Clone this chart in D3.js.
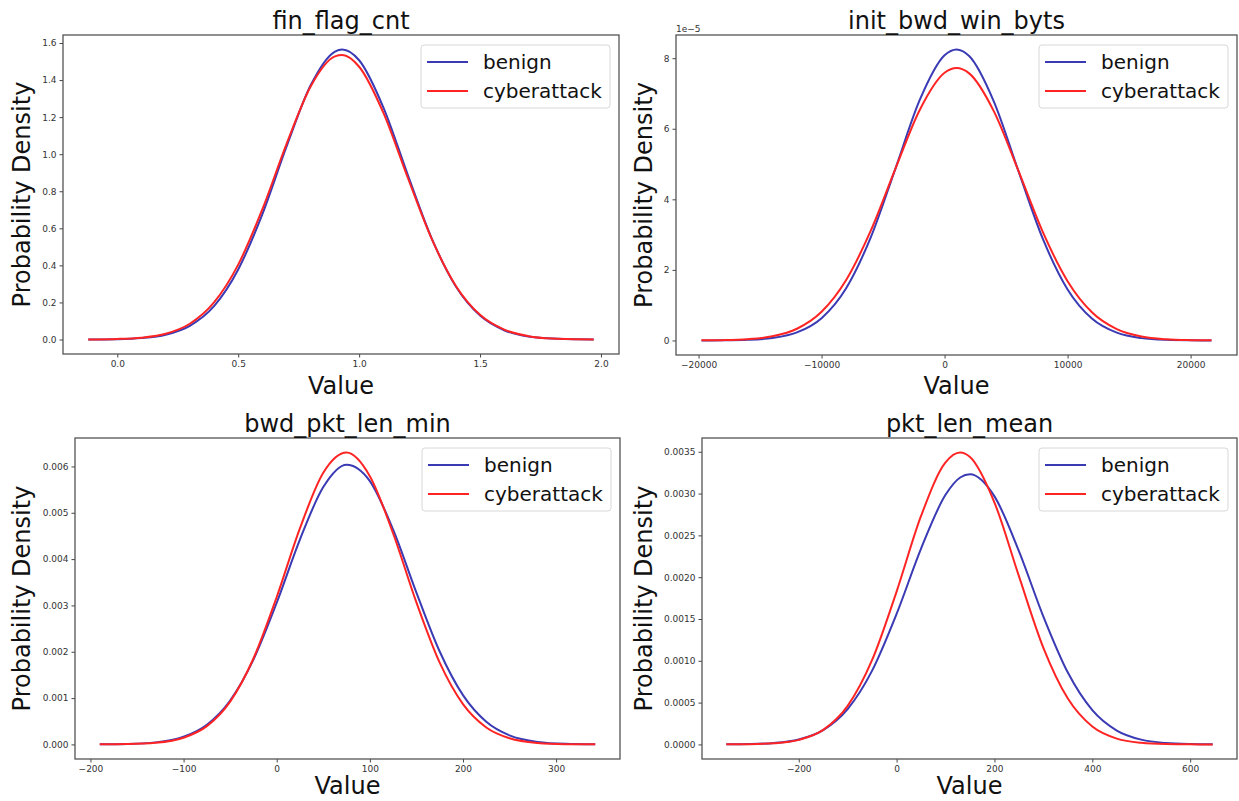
<!DOCTYPE html>
<html>
<head>
<meta charset="utf-8">
<script src="https://cdn.jsdelivr.net/npm/d3@7"></script>
<style>
  body { margin: 0; background: #fff; }
  text { font-family: "DejaVu Sans", sans-serif; }
</style>
</head>
<body>
<svg width="1239" height="801"></svg>
<script>
// fin_flag_cnt
const finX = [-0.12, 0.0, 0.1, 0.2, 0.3, 0.4, 0.5, 0.6, 0.7, 0.8, 0.9, 0.93, 1.0, 1.1, 1.2, 1.3, 1.4, 1.5, 1.6, 1.7, 1.8, 1.9, 1.97];
const finBenign = [0.0003, 0.002, 0.008, 0.026, 0.074, 0.180, 0.378, 0.677, 1.042, 1.373, 1.554, 1.565, 1.507, 1.253, 0.893, 0.546, 0.286, 0.129, 0.050, 0.016, 0.005, 0.001, 0.0004];
const finAttack = [0.0005, 0.003, 0.010, 0.031, 0.085, 0.200, 0.404, 0.703, 1.056, 1.367, 1.528, 1.535, 1.472, 1.224, 0.877, 0.543, 0.289, 0.133, 0.053, 0.018, 0.005, 0.0014, 0.0005];
const finXTicks = [0, 0.5, 1, 1.5, 2];
const finYTicks = [0, 0.2, 0.4, 0.6, 0.8, 1.0, 1.2, 1.4, 1.6];

// init_bwd_win_byts (densities in units of 1e-5)
const winX = [-19760, -18000, -16000, -14000, -12000, -10000, -8000, -6000, -4000, -2000, 0, 970, 2000, 4000, 6000, 8000, 10000, 12000, 14000, 16000, 18000, 20000, 21700];
const winBenign = [0.001, 0.004, 0.018, 0.069, 0.227, 0.632, 1.481, 2.923, 4.865, 6.830, 8.081, 8.245, 8.060, 6.777, 4.805, 2.870, 1.446, 0.614, 0.220, 0.066, 0.017, 0.004, 0.001];
const winAttack = [0.003, 0.009, 0.035, 0.117, 0.332, 0.813, 1.714, 3.111, 4.864, 6.546, 7.586, 7.720, 7.569, 6.501, 4.810, 3.063, 1.680, 0.793, 0.323, 0.113, 0.034, 0.009, 0.003];
const winXTicks = [-20000, -10000, 0, 10000, 20000];
const winYTicks = [0, 2, 4, 6, 8];

// bwd_pkt_len_min
const bwdX = [-190, -160, -130, -100, -75, -50, -25, 0, 25, 50, 75, 100, 125, 150, 175, 200, 225, 250, 280, 310, 342];
const bwdBenign = [0.000002, 0.00001, 0.000044, 0.000166, 0.000426, 0.000948, 0.00183, 0.003058, 0.004427, 0.005555, 0.006037, 0.005684, 0.004637, 0.003277, 0.002005, 0.001063, 0.000489, 0.000194, 0.000053, 0.000012, 0.000002];
const bwdAttack = [0.000001, 0.000007, 0.000035, 0.000144, 0.000394, 0.000924, 0.001855, 0.003182, 0.00467, 0.005863, 0.006299, 0.00579, 0.004553, 0.003064, 0.001764, 0.000869, 0.000366, 0.000132, 0.000032, 0.000006, 0.000001];
const bwdXTicks = [-200, -100, 0, 100, 200, 300];
const bwdYTicks = [0, 0.001, 0.002, 0.003, 0.004, 0.005, 0.006];

// pkt_len_mean
const pktX = [-348, -300, -250, -200, -150, -100, -50, 0, 50, 100, 130, 150, 200, 250, 300, 350, 400, 450, 500, 550, 600, 646];
const pktBenign = [0.000001, 0.0000044, 0.0000175, 0.0000596, 0.000172, 0.000423, 0.000882, 0.00156, 0.002342, 0.002985, 0.003192, 0.00323, 0.002966, 0.002312, 0.001529, 0.000859, 0.00041, 0.000166, 0.000057, 0.0000166, 0.0000041, 0.000001];
const pktAttack = [0.0000006, 0.0000029, 0.0000139, 0.000054, 0.000174, 0.000461, 0.00101, 0.001828, 0.002732, 0.003372, 0.00349, 0.003437, 0.002893, 0.002012, 0.001155, 0.000548, 0.000214, 0.000069, 0.0000185, 0.0000041, 0.0000007, 0.0000001];
const pktXTicks = [-200, 0, 200, 400, 600];
const pktYTicks = [0, 0.0005, 0.001, 0.0015, 0.002, 0.0025, 0.003, 0.0035];

const seriesNames = ["benign", "cyberattack"];
const seriesColors = ["#3a3ab4", "#ff2424"];

const svg = d3.select("svg");

const panels = [
  { title: "fin_flag_cnt", xs: finX, ys: [finBenign, finAttack], xTicks: finXTicks, yTicks: finYTicks,
    xFmt: d3.format(".1f"), yFmt: d3.format(".1f"), box: { l: 63, t: 35, r: 619, b: 354 }, ylabX: 30, xlabGap: 40 },
  { title: "init_bwd_win_byts", xs: winX, ys: [winBenign, winAttack], xTicks: winXTicks, yTicks: winYTicks,
    xFmt: d3.format("d"), yFmt: d3.format("d"), box: { l: 676, t: 35, r: 1237, b: 355 }, ylabX: 652, xlabGap: 39, offset: "1e\u22125" },
  { title: "bwd_pkt_len_min", xs: bwdX, ys: [bwdBenign, bwdAttack], xTicks: bwdXTicks, yTicks: bwdYTicks,
    xFmt: d3.format("d"), yFmt: d3.format(".3f"), box: { l: 75, t: 438, r: 620, b: 759 }, ylabX: 30, xlabGap: 35 },
  { title: "pkt_len_mean", xs: pktX, ys: [pktBenign, pktAttack], xTicks: pktXTicks, yTicks: pktYTicks,
    xFmt: d3.format("d"), yFmt: d3.format(".4f"), box: { l: 702, t: 438, r: 1237, b: 759 }, ylabX: 652, xlabGap: 35 }
];

// matplotlib-style 5% padding around the data
function padded(extent) {
  const pad = (extent[1] - extent[0]) * 0.05;
  return [extent[0] - pad, extent[1] + pad];
}

panels.forEach((p) => {
  const b = p.box;
  const g = svg.append("g");

  const x = d3.scaleLinear()
    .domain(padded(d3.extent(p.xs)))
    .range([b.l, b.r]);

  const yMax = d3.max(p.ys, (s) => d3.max(s));
  const y = d3.scaleLinear()
    .domain(padded([0, yMax]))
    .range([b.b, b.t]);

  // axes
  const xAxis = g.append("g")
    .attr("transform", `translate(0,${b.b})`)
    .call(d3.axisBottom(x).tickValues(p.xTicks).tickFormat(p.xFmt).tickSize(3.5).tickPadding(3));
  const yAxis = g.append("g")
    .attr("transform", `translate(${b.l},0)`)
    .call(d3.axisLeft(y).tickValues(p.yTicks).tickFormat(p.yFmt).tickSize(3.5).tickPadding(3));

  [xAxis, yAxis].forEach((ax) => {
    ax.select(".domain").remove();
    ax.selectAll(".tick line").attr("stroke", "#444").attr("stroke-width", 1);
    ax.selectAll(".tick text")
      .attr("fill", "#333")
      .style("font-family", "DejaVu Sans, sans-serif")
      .style("font-size", "9px");
  });

  // frame
  g.append("rect")
    .attr("x", b.l)
    .attr("y", b.t)
    .attr("width", b.r - b.l)
    .attr("height", b.b - b.t)
    .attr("fill", "none")
    .attr("stroke", "#555")
    .attr("stroke-width", 1.3);

  // curves
  const line = d3.line()
    .x((d, i) => x(p.xs[i]))
    .y((d) => y(d))
    .curve(d3.curveMonotoneX);

  p.ys.forEach((s, k) => {
    g.append("path")
      .datum(s)
      .attr("d", line)
      .attr("fill", "none")
      .attr("stroke", seriesColors[k])
      .attr("stroke-width", 2);
  });

  // title and labels
  g.append("text")
    .attr("x", (b.l + b.r) / 2)
    .attr("y", b.t - 6)
    .attr("text-anchor", "middle")
    .attr("font-size", 24)
    .attr("fill", "#111")
    .text(p.title);

  g.append("text")
    .attr("x", (b.l + b.r) / 2)
    .attr("y", b.b + p.xlabGap)
    .attr("text-anchor", "middle")
    .attr("font-size", 24)
    .attr("fill", "#111")
    .text("Value");

  g.append("text")
    .attr("transform", `translate(${p.ylabX},${(b.t + b.b) / 2}) rotate(-90)`)
    .attr("text-anchor", "middle")
    .attr("font-size", 24)
    .attr("fill", "#111")
    .text("Probability Density");

  if (p.offset) {
    g.append("text")
      .attr("x", b.l)
      .attr("y", b.t - 3)
      .attr("font-size", 9)
      .attr("fill", "#333")
      .text(p.offset);
  }

  // legend
  const lw = 189, lh = 63;
  const lx = b.r - 9 - lw, ly = b.t + 10;
  const legend = g.append("g").attr("transform", `translate(${lx},${ly})`);
  legend.append("rect")
    .attr("width", lw)
    .attr("height", lh)
    .attr("rx", 3)
    .attr("fill", "#fff")
    .attr("fill-opacity", 0.8)
    .attr("stroke", "#d8d8d8");

  seriesNames.forEach((name, k) => {
    const yy = 17 + k * 29;
    legend.append("line")
      .attr("x1", 6)
      .attr("x2", 47)
      .attr("y1", yy)
      .attr("y2", yy)
      .attr("stroke", seriesColors[k])
      .attr("stroke-width", 2);
    legend.append("text")
      .attr("x", 62)
      .attr("y", yy + 7)
      .attr("font-size", 20)
      .attr("fill", "#111")
      .text(name);
  });
});
</script>
</body>
</html>
